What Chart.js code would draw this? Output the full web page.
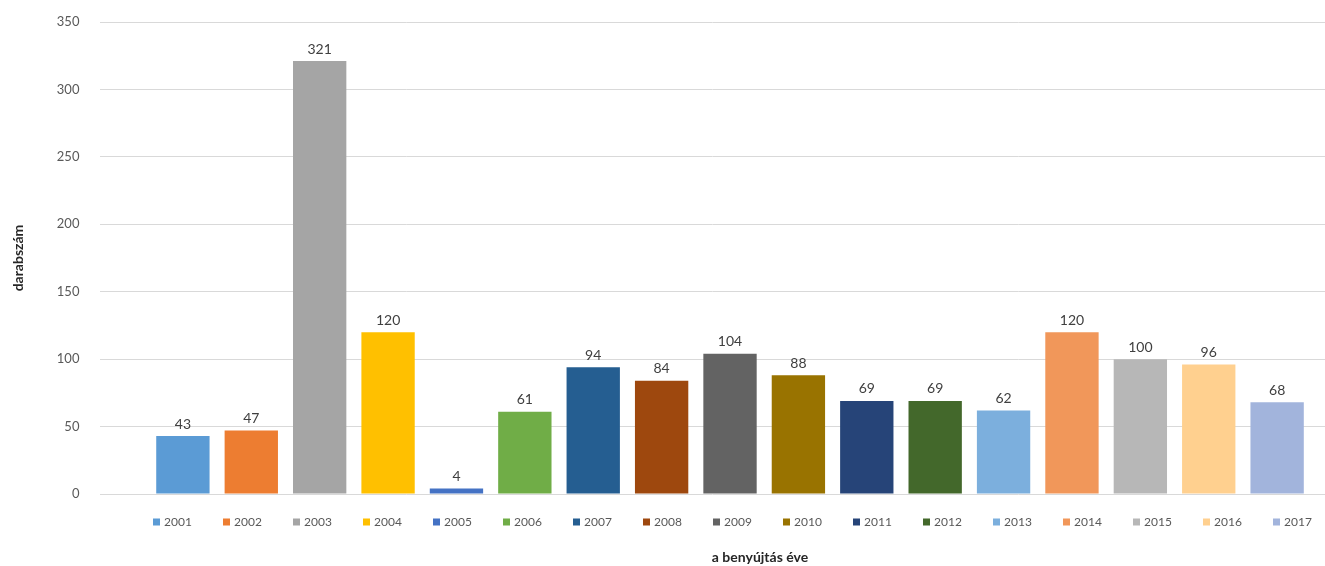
<!DOCTYPE html>
<html>
<head>
<meta charset="utf-8">
<script src="https://cdn.jsdelivr.net/npm/chart.js@4"></script>
<style>
  html, body { margin: 0; padding: 0; background: #ffffff; overflow: hidden; }
  #wrap { width: 1325px; height: 566px; }
</style>
</head>
<body>
<div id="wrap"><canvas id="yearChart"></canvas></div>
<script>
// benyújtott darabszám évenként
const years = ['2001', '2002', '2003', '2004', '2005', '2006', '2007', '2008', '2009',
  '2010', '2011', '2012', '2013', '2014', '2015', '2016', '2017'];
const counts = [43, 47, 321, 120, 4, 61, 94, 84, 104, 88, 69, 69, 62, 120, 100, 96, 68];
const yTicks = [0, 50, 100, 150, 200, 250, 300, 350];
const barColors = ['#5b9bd5', '#ed7d31', '#a5a5a5', '#ffc000', '#4472c4', '#70ad47',
  '#255e91', '#9e480e', '#636363', '#997300', '#264478', '#43682b',
  '#7cafdd', '#f1975a', '#b7b7b7', '#ffd08f', '#a2b4dc'];
const xTitle = 'a benyújtás éve';

const gray = '#595959';
const FONT = 'Lato, "Open Sans", sans-serif';
Chart.defaults.font.family = FONT;

// value labels above each bar
const valueLabels = {
  id: 'valueLabels',
  afterDatasetsDraw(chart) {
    const ctx = chart.ctx;
    ctx.save();
    ctx.font = '14px ' + FONT;
    ctx.fillStyle = '#404040';
    ctx.textAlign = 'center';
    ctx.textBaseline = 'bottom';
    chart.data.datasets.forEach((ds, i) => {
      chart.getDatasetMeta(i).data.forEach((bar, j) => {
        ctx.fillText(ds.data[j].y, bar.x, bar.y - 5);
      });
    });
    ctx.restore();
  }
};

// excel-like legend row + axis title underneath the plot
// (the original plot area is cropped on the right, so the title sits right of centre)
const bottomLegend = {
  id: 'bottomLegend',
  afterDraw(chart) {
    const ctx = chart.ctx;
    const pitch = 70, center = 733, y = 522;
    const n = chart.data.datasets.length;
    let x = center - (pitch * (n - 1) + 40) / 2;
    ctx.save();
    ctx.font = '12px ' + FONT;
    ctx.textBaseline = 'middle';
    ctx.textAlign = 'left';
    chart.data.datasets.forEach((ds) => {
      ctx.fillStyle = ds.backgroundColor;
      ctx.fillRect(x, y - 3.5, 7, 7);
      ctx.fillStyle = gray;
      ctx.fillText(ds.label, x + 11, y);
      x += pitch;
    });
    ctx.font = 'bold 14px ' + FONT;
    ctx.fillStyle = '#262626';
    ctx.textAlign = 'center';
    ctx.fillText(xTitle, 760, 557);
    ctx.restore();
  }
};

const yearCtx = document.getElementById('yearChart').getContext('2d');
new Chart(yearCtx, {
  type: 'bar',
  data: {
    datasets: years.map((yr, i) => ({
      label: yr,
      data: [{ x: Number(yr), y: counts[i] }],
      backgroundColor: barColors[i],
      grouped: false,
      categoryPercentage: 1,
      barPercentage: 0.78
    }))
  },
  options: {
    responsive: true,
    maintainAspectRatio: false,
    animation: false,
    layout: { padding: { top: 22, right: 0, left: 0, bottom: 72 } },
    plugins: {
      legend: { display: false },
      tooltip: { enabled: false }
    },
    scales: {
      x: {
        type: 'linear',
        offset: false,
        min: 1999.794,
        max: 2017.70,
        display: false
      },
      y: {
        min: 0,
        max: 350,
        afterBuildTicks: (axis) => { axis.ticks = yTicks.map(v => ({ value: v })); },
        // tick padding would otherwise push the top gridline down
        afterFit: (axis) => { axis.paddingTop = 8; axis.paddingBottom = 8; },
        ticks: { color: gray, font: { size: 13 }, padding: 21 },
        grid: { color: '#d9d9d9', drawTicks: false },
        border: { display: false },
        title: {
          display: true,
          text: 'darabszám',
          color: '#262626',
          font: { size: 14, weight: 'bold' },
          padding: { top: 10, bottom: 9 }
        }
      }
    }
  },
  plugins: [valueLabels, bottomLegend]
});
</script>
</body>
</html>
